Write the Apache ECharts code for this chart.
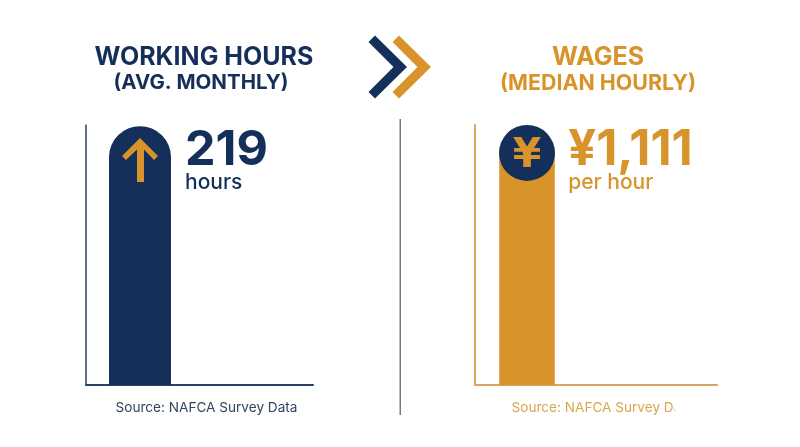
<!DOCTYPE html>
<html>
<head>
<meta charset="utf-8">
<style>html,body{margin:0;padding:0;background:#fff}#c{width:800px;height:447px}</style>
<script src="https://cdn.jsdelivr.net/npm/echarts@6/dist/echarts.min.js"></script>
</head>
<body>
<div id="c"></div>
<script>
const categories = ['Working hours (avg. monthly)', 'Wages (median hourly)'];
const hoursValues = [219];
const wageValues = [1111];
const hoursTitle = ['WORKING HOURS', '(AVG. MONTHLY)'];
const wageTitle = ['WAGES', '(MEDIAN HOURLY)'];
const hoursLabel = ['219', 'hours'];
const wageLabel = ['¥1,111', 'per hour'];
const sourceText = 'Source: NAFCA Survey Data';

const NAVY = '#152f5b', GOLD = '#d8942b', FONT = 'Inter, "Noto Sans", sans-serif';
const head = (text, x, y, size, color) => ({
  text, left: x, top: y, textAlign: 'center', padding: 0,
  textStyle: { fontFamily: FONT, fontWeight: 700, fontSize: size, color, lineHeight: size + 2 }
});
const axisBase = (gridIndex, color, width, extra) => Object.assign({
  type: 'value', gridIndex, min: 0,
  axisLine: { show: true, onZero: false, lineStyle: { color, width } },
  axisTick: { show: false }, axisLabel: { show: false }, splitLine: { show: false }
}, extra);
const poly = (points, fill) => ({ type: 'polygon', silent: true, z: 20, shape: { points }, style: { fill } });
const source = (x, color) => ({
  type: 'text', silent: true, z: 20, x, y: 408,
  style: { text: sourceText, fill: color, font: '400 13.6px ' + FONT, align: 'center', verticalAlign: 'middle' }
});

const option = {
  backgroundColor: '#fff',
  animation: false,
  title: [
    head(hoursTitle[0], 204, 44, 25, NAVY),
    head(hoursTitle[1], 201, 72, 20.5, NAVY),
    head(wageTitle[0], 598, 44, 25, GOLD),
    head(wageTitle[1], 598, 72, 21.4, GOLD)
  ],
  grid: [
    { left: 86, top: 125, width: 227, height: 260 },
    { left: 475, top: 125, width: 242, height: 260 }
  ],
  xAxis: [
    axisBase(0, '#2b4163', 2, { max: 1 }),
    axisBase(1, '#d8a75f', 2, { max: 1 })
  ],
  yAxis: [
    axisBase(0, '#2b4163', 1.5, { max: 220 }),
    axisBase(1, '#d8a75f', 2, { max: 1245 })
  ],
  series: [
    {
      name: categories[0], type: 'bar', xAxisIndex: 0, yAxisIndex: 0, barWidth: 62,
      data: [[0.2379, hoursValues[0]]],
      itemStyle: { color: NAVY, borderRadius: [31, 31, 0, 0] },
      label: {
        show: true, position: [76, 3], align: 'left', verticalAlign: 'top',
        formatter: `{a|${hoursLabel[0]}}\n{b|${hoursLabel[1]}}`,
        rich: {
          a: { fontFamily: FONT, fontWeight: 700, fontSize: 48.5, color: NAVY, lineHeight: 42 },
          b: { fontFamily: FONT, fontWeight: 500, fontSize: 21, color: NAVY, lineHeight: 24 }
        }
      }
    },
    {
      name: categories[1], type: 'bar', xAxisIndex: 1, yAxisIndex: 1, barWidth: 55.5,
      data: [[0.2149, wageValues[0]]],
      itemStyle: { color: GOLD },
      label: {
        show: true, position: [69, -24], align: 'left', verticalAlign: 'top',
        formatter: `{a|${wageLabel[0]}}\n{b|${wageLabel[1]}}`,
        rich: {
          a: { fontFamily: FONT, fontWeight: 700, fontSize: 49, color: GOLD, lineHeight: 42 },
          b: { fontFamily: FONT, fontWeight: 500, fontSize: 21, color: GOLD, lineHeight: 24 }
        }
      }
    },
    {
      type: 'scatter', xAxisIndex: 1, yAxisIndex: 1, symbol: 'circle', symbolSize: 56, z: 5,
      data: [[0.2149, wageValues[0]]],
      itemStyle: { color: NAVY, opacity: 1 },
      label: {
        show: true, position: 'inside', offset: [0, 3], formatter: '¥',
        fontFamily: '"DejaVu Sans", sans-serif', fontWeight: 700, fontSize: 41, color: GOLD
      }
    }
  ],
  graphic: [
    poly([[375, 35.5], [368.5, 42], [393.5, 67], [368.5, 92], [375, 98.5], [407, 67]], NAVY),
    poly([[399, 35.5], [392.5, 42], [417.5, 67], [392.5, 92], [399, 98.5], [431, 67]], GOLD),
    poly([[140, 138], [158, 156], [154, 160], [144, 149.5], [144, 182], [137, 182], [137, 149.5], [126, 160], [122, 156]], GOLD),
    { type: 'rect', silent: true, z: 20, shape: { x: 399.5, y: 119, width: 1.5, height: 296 }, style: { fill: '#6f7c92' } },
    source(206.5, '#33435f'),
    source(602.5, '#dba650'),
    { type: 'rect', silent: true, z: 30, shape: { x: 675, y: 400, width: 24, height: 16 }, style: { fill: '#fff' } }
  ]
};
echarts.init(document.getElementById('c'), null, { renderer: 'canvas' }).setOption(option);
</script>
</body>
</html>
